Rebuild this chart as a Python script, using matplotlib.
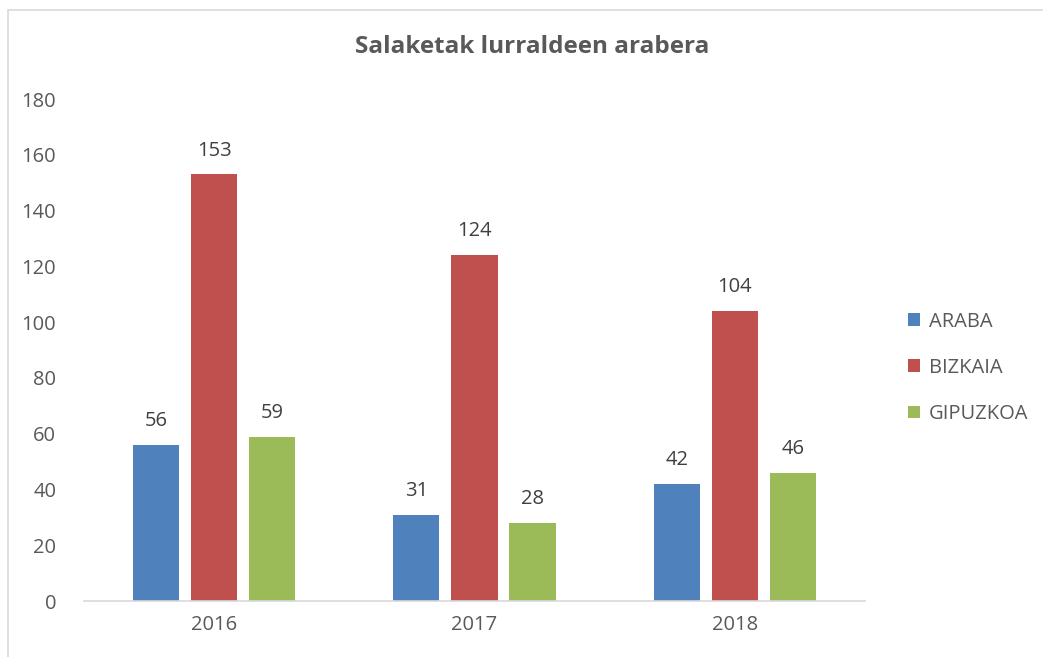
import numpy as np
import matplotlib.pyplot as plt
from matplotlib.patches import Rectangle

years = ['2016', '2017', '2018']
araba = [56, 31, 42]
bizkaia = [153, 124, 104]
gipuzkoa = [59, 28, 46]
series_names = ['ARABA', 'BIZKAIA', 'GIPUZKOA']
colors = ['#4F81BD', '#C0504D', '#9BBB59']

text_col = '#595959'
plt.rcParams['font.family'] = ['Open Sans', 'DejaVu Sans']

fig = plt.figure(figsize=(10.43, 6.57), dpi=100)
ax = fig.add_axes([0.0805, 0.0852, 0.7488, 0.7638])

# chart border (cropped at right and bottom)
fig.patches.append(Rectangle((8 / 1043, -0.1), 1.2, 1 - 10 / 657 + 0.1,
                             transform=fig.transFigure, fill=False,
                             edgecolor='#D9D9D9', linewidth=1.2))

x = np.arange(len(years))
w = 0.177
off = 0.223
for i, (vals, name) in enumerate(zip([araba, bizkaia, gipuzkoa], series_names)):
    bars = ax.bar(x + (i - 1) * off, vals, w, color=colors[i], label=name)
    for b, v in zip(bars, vals):
        ax.text(b.get_x() + b.get_width() / 2, v + 5.0, str(v), ha='center',
                va='bottom', fontsize=14.5, color='#404040')

ax.set_xlim(-0.5, 2.5)
ax.set_ylim(0, 180)
ax.set_yticks(range(0, 181, 20))
ax.set_xticks(x)
ax.set_xticklabels(years)
ax.tick_params(axis='both', length=0, labelsize=14.5, colors=text_col)
ax.tick_params(axis='y', pad=20)
ax.tick_params(axis='x', pad=10)
for s in ['top', 'right', 'left']:
    ax.spines[s].set_visible(False)
ax.spines['bottom'].set_color('#D9D9D9')
ax.spines['bottom'].set_linewidth(1.2)

fig.text(532 / 1043, 1 - 47 / 657, 'Salaketak lurraldeen arabera', ha='center', va='center',
         fontsize=17.5, fontweight='bold', color=text_col)

leg = fig.legend(loc='center left', bbox_to_anchor=(0.853, 0.44), frameon=False,
                 handlelength=0.6, handleheight=0.6, handletextpad=0.45,
                 labelspacing=1.3, fontsize=14.5, labelcolor=text_col)

plt.savefig('out.png', dpi=100)
